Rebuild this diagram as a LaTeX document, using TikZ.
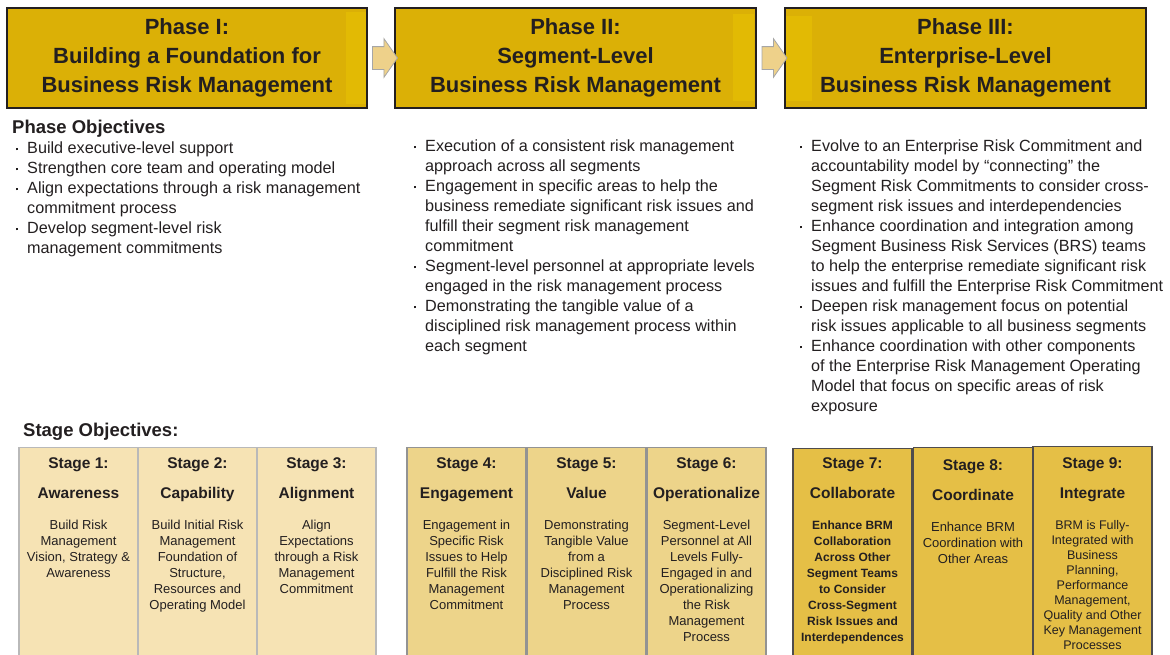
\documentclass[tikz,border=0pt]{standalone}
\usepackage{fontspec}
\setmainfont{Liberation Sans}
\usetikzlibrary{shapes.arrows,positioning,calc}
\definecolor{inkgray}{RGB}{35,31,32}
\definecolor{phasegold}{RGB}{219,176,6}
\definecolor{phaseglint}{RGB}{226,186,4}
\definecolor{arrowfill}{RGB}{238,209,138}
\definecolor{stagelight}{RGB}{246,227,180}
\definecolor{stagemid}{RGB}{237,212,138}
\definecolor{stagedark}{RGB}{229,191,70}
\newcommand{\bul}{\llap{\rule[3.5pt]{2.6pt}{2.6pt}\hspace{9pt}}}
\newcommand{\stg}{\bfseries\fontsize{15.5}{16}\selectfont}
\tikzset{
  phase/.style={rectangle,draw=inkgray,line width=1.3pt,fill=phasegold,text=inkgray,align=center,
                font=\bfseries\fontsize{22}{29}\selectfont,minimum width=360pt,minimum height=100pt,inner sep=0pt},
  glint/.style={fill=phaseglint},
  flowarrow/.style={single arrow,draw=gray!70,fill=arrowfill,line width=0.8pt,minimum height=25pt,
                    inner xsep=0pt,inner ysep=11pt,single arrow head extend=8pt,single arrow tip angle=110},
  objhead/.style={anchor=north west,inner sep=0pt,text=inkgray,font=\bfseries\fontsize{18.5}{22}\selectfont},
  objlist/.style={anchor=north west,inner sep=0pt,align=left,text=inkgray,font=\fontsize{16.2}{20}\selectfont},
  stagebox/.style={rectangle,anchor=north,minimum width=119pt,minimum height=215pt,inner sep=0pt},
  lbox/.style={stagebox,draw=gray!55,fill=stagelight,line width=1.2pt},
  mbox/.style={stagebox,draw=gray!85,fill=stagemid,line width=1.2pt},
  dbox/.style={stagebox,draw=inkgray!80,fill=stagedark,line width=1.4pt},
  stagetext/.style={align=center,inner sep=0pt,text=inkgray,font=\fontsize{13}{16}\selectfont},
  stagebold/.style={stagetext,font=\bfseries\fontsize{12}{16}\selectfont},
}

\begin{document}
\begin{tikzpicture}[x=1pt,y=-1pt]
  \useasboundingbox (0,0) rectangle (1170,654);
  \clip (0,0) rectangle (1170,654);
  \node[phase] (p1) at (187,58) {Phase I:\\Building a Foundation for\\Business Risk Management};
  \node[phase,minimum width=361pt] (p2) at (575.5,58) {Phase II:\\Segment-Level\\Business Risk Management};
  \node[phase,minimum width=361pt] (p3) at (965.5,58) {Phase III:\\Enterprise-Level\\Business Risk Management};
  \fill[glint] ([xshift=-22pt,yshift=-5pt]p1.north east) rectangle ([xshift=-2pt,yshift=5pt]p1.south east);
  \fill[glint] ([xshift=-24pt,yshift=-7pt]p2.north east) rectangle ([xshift=-3pt,yshift=8pt]p2.south east);
  \fill[glint] ([xshift=2pt,yshift=-9pt]p3.north west) rectangle ([xshift=28pt,yshift=8pt]p3.south west);
  \node[flowarrow] (a12) at ($(p1.east)!0.5!(p2.west)$) {};
  \node[flowarrow] (a23) at ($(p2.east)!0.5!(p3.west)$) {};

  \node[objhead] (ph) at (12,120) {Phase Objectives};
  \node[objlist] (o1) at (27,142) {\bul Build executive-level support\\
    \bul Strengthen core team and operating model\\
    \bul Align expectations through a risk management\\commitment process\\
    \bul Develop segment-level risk\\management commitments};
  \node[objlist] (o2) at (425,140) {\bul Execution of a consistent risk management\\approach across all segments\\
    \bul Engagement in specific areas to help the\\business remediate significant risk issues and\\
    fulfill their segment risk management\\commitment\\
    \bul Segment-level personnel at appropriate levels\\engaged in the risk management process\\
    \bul Demonstrating the tangible value of a\\disciplined risk management process within\\each segment};
  \node[objlist] (o3) at (811,140) {\bul Evolve to an Enterprise Risk Commitment and\\accountability model by ``connecting'' the\\
    Segment Risk Commitments to consider cross-\\segment risk issues and interdependencies\\
    \bul Enhance coordination and integration among\\Segment Business Risk Services (BRS) teams\\
    to help the enterprise remediate significant risk\\issues and fulfill the Enterprise Risk Commitment\\
    \bul Deepen risk management focus on potential\\risk issues applicable to all business segments\\
    \bul Enhance coordination with other components\\of the Enterprise Risk Management Operating\\
    Model that focus on specific areas of risk\\exposure};

  \node[objhead] (sh) at (23,423) {Stage Objectives:};
  \node[lbox] (s1) at (78.5,447) {};
  \node[lbox] (s2) at (197.5,447) {};
  \node[lbox] (s3) at (316.5,447) {};
  \node[mbox] (s4) at (466.5,447) {};
  \node[mbox] (s5) at (586.5,447) {};
  \node[mbox] (s6) at (706.5,447) {};
  \node[dbox] (s7) at (852.5,448) {};
  \node[dbox] (s8) at (973,447) {};
  \node[dbox] (s9) at (1092.5,446) {};

  \node[stagetext,below=10pt of s1.north] (t1) {{\stg Stage 1:}\\[14pt]{\stg Awareness}\\[15pt]
    Build Risk\\Management\\Vision, Strategy \&\\Awareness};
  \node[stagetext,below=10pt of s2.north] (t2) {{\stg Stage 2:}\\[14pt]{\stg Capability}\\[15pt]
    Build Initial Risk\\Management\\Foundation of\\Structure,\\Resources and\\Operating Model};
  \node[stagetext,below=10pt of s3.north] (t3) {{\stg Stage 3:}\\[14pt]{\stg Alignment}\\[15pt]
    Align\\Expectations\\through a Risk\\Management\\Commitment};
  \node[stagetext,below=10pt of s4.north] (t4) {{\stg Stage 4:}\\[14pt]{\stg Engagement}\\[15pt]
    Engagement in\\Specific Risk\\Issues to Help\\Fulfill the Risk\\Management\\Commitment};
  \node[stagetext,below=10pt of s5.north] (t5) {{\stg Stage 5:}\\[14pt]{\stg Value}\\[15pt]
    Demonstrating\\Tangible Value\\from a\\Disciplined Risk\\Management\\Process};
  \node[stagetext,below=10pt of s6.north] (t6) {{\stg Stage 6:}\\[14pt]{\stg Operationalize}\\[15pt]
    Segment-Level\\Personnel at All\\Levels Fully-\\Engaged in and\\Operationalizing\\the Risk\\Management\\Process};
  \node[stagebold,below=9pt of s7.north] (t7) {{\stg Stage 7:}\\[14pt]{\stg Collaborate}\\[15pt]
    Enhance BRM\\Collaboration\\Across Other\\Segment Teams\\to Consider\\Cross-Segment\\Risk Issues and\\Interdependences};
  \node[stagetext,below=12pt of s8.north] (t8) {{\stg Stage 8:}\\[14pt]{\stg Coordinate}\\[15pt]
    Enhance BRM\\Coordination with\\Other Areas};
  \node[stagetext,font=\fontsize{12.5}{15}\selectfont,below=11pt of s9.north] (t9) {{\stg Stage 9:}\\[15pt]{\stg Integrate}\\[16pt]
    BRM is Fully-\\Integrated with\\Business\\Planning,\\Performance\\Management,\\Quality and Other\\Key Management\\Processes};
\end{tikzpicture}
\end{document}
